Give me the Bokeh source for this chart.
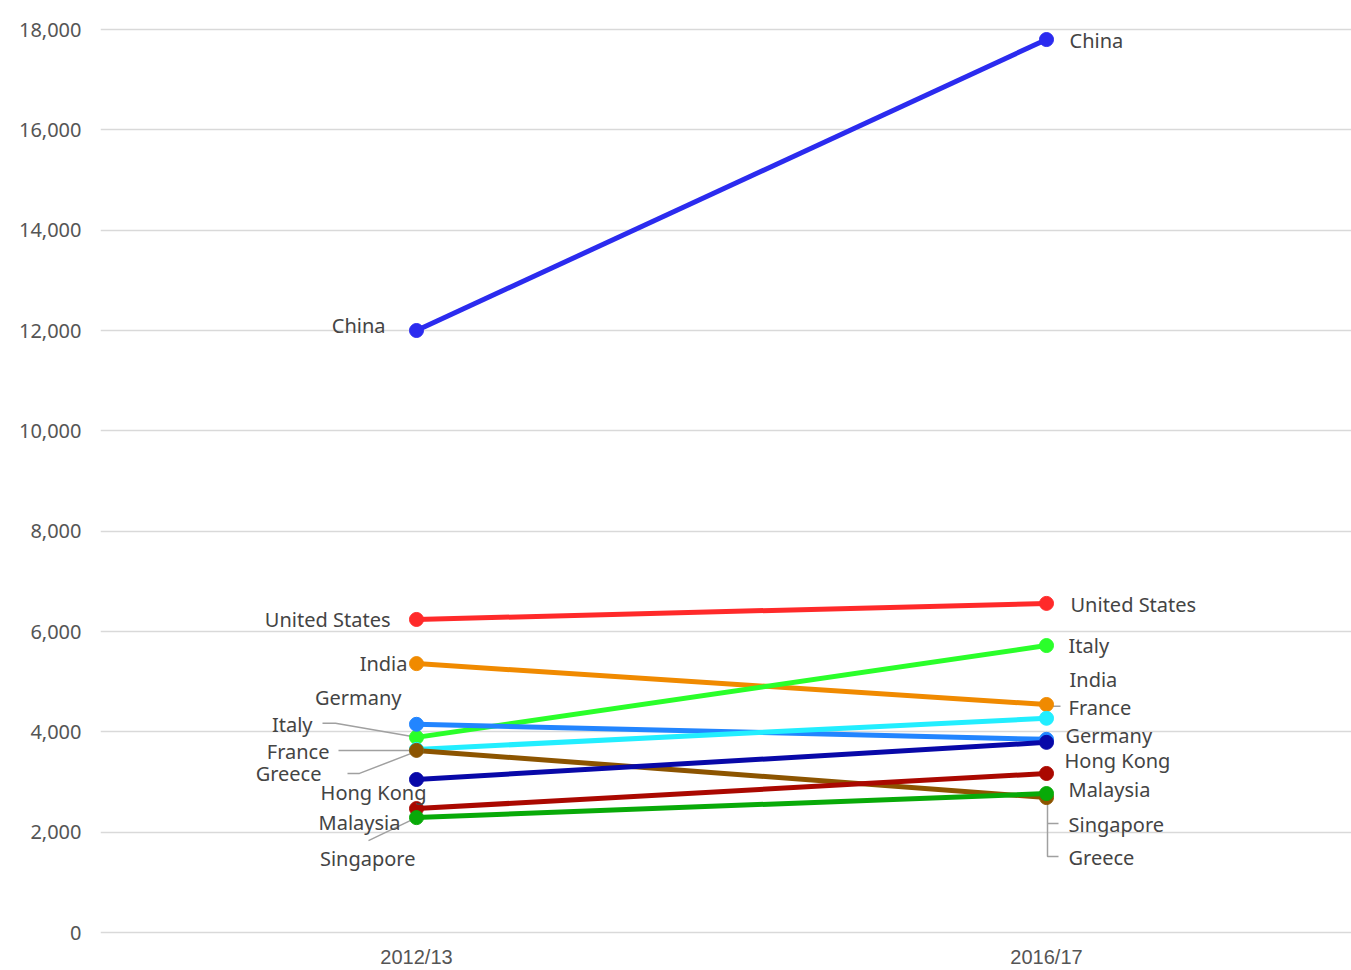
from bokeh.plotting import figure
from bokeh.models import Range1d, FixedTicker, NumeralTickFormatter, ColumnDataSource
from bokeh.core.properties import value
from bokeh.embed import file_html
from bokeh.resources import INLINE

# ---- data ----
categories = ["2012/13", "2016/17"]
countries = ["China", "United States", "India", "Italy", "Germany", "France",
             "Greece", "Hong Kong", "Malaysia", "Singapore"]
values_2012 = [12000, 6240, 5360, 3890, 4150, 3650, 3630, 3050, 2470, 2290]
values_2016 = [17800, 6560, 4545, 5720, 3850, 4270, 2690, 3790, 3170, 2770]
y_ticks = [0, 2000, 4000, 6000, 8000, 10000, 12000, 14000, 16000, 18000]

# ---- styles ----
colors = ["#2b2bef", "#ff2a2a", "#f08a00", "#2aff2a", "#2285ff", "#22eeff",
          "#8c5400", "#0808a8", "#aa0800", "#08aa08"]

# label offsets in screen pixels (dx right, dy down) relative to the point
left_dx = [-31, -26, -9, -104, -15, -87, -95, 10, -16, -1]
left_dy = [-5, 0, 0, -13, -27, 2, 23, 13, 14, 41]
right_dx = [23, 24, 23, 22, 19, 22, 22, 18, 22, 22]
right_dy = [1, 1, -25, 0, -4, -11, 60, 18, 16, 31]

# connectors: (side, country index, list of pixel offsets from point)
connectors = [
    (0, 3, [(-94, -14), (-81, -14), (0, 0)]),
    (0, 5, [(-78, 1), (0, 1)]),
    (0, 6, [(-69, 23), (-57, 23), (0, 1)]),
    (0, 9, [(-48, 23), (0, 0)]),
    (1, 5, [(1, 0), (1, -12), (14, -12)]),
    (1, 9, [(1, 4), (1, 30), (12, 30)]),
    (1, 6, [(1, 26), (1, 59), (12, 59)]),
]

W, H = 1351, 970
BL, BR, BT, BB = 100, 0, 8, 36
frame_w = W - BL - BR
frame_h = H - BT - BB
px_per_x = 630.0
px_per_y = 903.0 / 18000.0
x0 = -316.0 / px_per_x
x1 = x0 + frame_w / px_per_x
y0 = -2.0 / px_per_y
y1 = y0 + frame_h / px_per_y

p = figure(width=W, height=H, output_backend="svg", toolbar_location=None,
           x_range=Range1d(x0, x1), y_range=Range1d(y0, y1),
           min_border_left=BL, min_border_right=BR, min_border_top=BT,
           min_border_bottom=BB)
p.outline_line_color = None
p.background_fill_color = "white"
p.border_fill_color = "white"

FONT = "Noto Sans"

# axes
p.xaxis.ticker = FixedTicker(ticks=[0, 1])
p.xaxis.major_label_overrides = {0: categories[0], 1: categories[1]}
p.xaxis.axis_line_color = None
p.xaxis.major_tick_line_color = None
p.xaxis.minor_tick_line_color = None
p.xaxis.major_tick_out = 0
p.xaxis.major_tick_in = 0
p.xaxis.minor_tick_out = 0
p.xaxis.major_label_text_font = "Liberation Sans"
p.xaxis.major_label_text_font_size = "20px"
p.xaxis.major_label_text_color = "#555555"
p.xaxis.major_label_standoff = 11

p.yaxis.ticker = FixedTicker(ticks=y_ticks)
p.yaxis.formatter = NumeralTickFormatter(format="0,0")
p.yaxis.axis_line_color = None
p.yaxis.major_tick_line_color = None
p.yaxis.minor_tick_line_color = None
p.yaxis.major_tick_out = 0
p.yaxis.major_tick_in = 0
p.yaxis.minor_tick_out = 0
p.yaxis.major_label_text_font = FONT
p.yaxis.major_label_text_font_size = "20px"
p.yaxis.major_label_text_color = "#555555"
p.yaxis.major_label_standoff = 19

p.xgrid.grid_line_color = None
p.ygrid.grid_line_color = "#d9d9d9"
p.ygrid.grid_line_width = 1.5

# connectors
def to_data(side, idx, dx, dy):
    v = values_2012[idx] if side == 0 else values_2016[idx]
    return side + dx / px_per_x, v - dy / px_per_y

cx, cy = [], []
for side, idx, pts in connectors:
    xs, ys = [], []
    for dx, dy in pts:
        a, b = to_data(side, idx, dx, dy)
        xs.append(a)
        ys.append(b)
    cx.append(xs)
    cy.append(ys)
p.multi_line(cx, cy, line_color="#a0a0a0", line_width=1.5)

# lines and points
for i, c in enumerate(countries):
    p.line([0, 1], [values_2012[i], values_2016[i]], line_color=colors[i],
           line_width=5)
for i, c in enumerate(countries):
    p.scatter([0, 1], [values_2012[i], values_2016[i]], size=14,
              fill_color=colors[i], line_color=colors[i])

# labels
src_l = ColumnDataSource(dict(x=[0] * len(countries), y=values_2012,
                              t=countries, dx=left_dx, dy=left_dy))
src_r = ColumnDataSource(dict(x=[1] * len(countries), y=values_2016,
                              t=countries, dx=right_dx, dy=right_dy))
p.text(x="x", y="y", text="t", x_offset="dx", y_offset="dy", source=src_l,
       text_align="right", text_baseline="middle",
       text_font=value(FONT), text_font_size="20px", text_color="#444444")
p.text(x="x", y="y", text="t", x_offset="dx", y_offset="dy", source=src_r,
       text_align="left", text_baseline="middle",
       text_font=value(FONT), text_font_size="20px", text_color="#444444")

open("out.html", "w").write(file_html(p, INLINE))
